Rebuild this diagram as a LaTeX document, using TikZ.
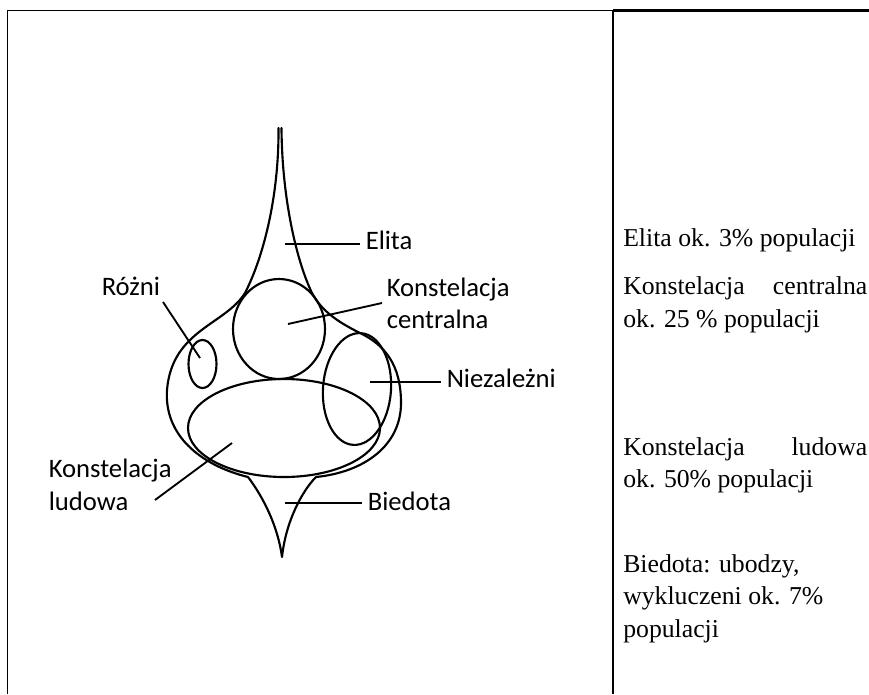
\documentclass[tikz,border=0pt]{standalone}
\usepackage{fontspec}
\setmainfont{Liberation Serif}
\newfontfamily\labfont{Carlito}
\begin{document}
\begin{tikzpicture}[x=0.75pt,y=-0.75pt,
  outline/.style={line width=1.6pt, line join=round, line cap=round},
  lead/.style={line width=1.4pt},
  lab/.style={font=\labfont\fontsize{20}{24}\selectfont, inner xsep=4.5pt, inner ysep=0pt},
  txt/.style={font=\fontsize{19.3}{24}\selectfont, inner sep=0pt},
  rulethin/.style={line width=1.3pt},
  rulethick/.style={line width=1.7pt}]
\useasboundingbox (0,0) rectangle (869,694);

% table rules
\draw[rulethin] (7.5,694) -- (7.5,10.5) -- (613,10.5);
\draw[rulethick] (613,10.5) -- (869,10.5);
\draw[rulethin] (613,10.5) -- (613,694);

% outer shape
\draw[outline] (278.5,128)
  .. controls (279,200) and (262,260) .. (245,293)
  .. controls (225,325) and (172,330) .. (167,390)
  .. controls (164,435) and (200,465) .. (248,477)
  .. controls (258,490) and (277,520) .. (282,557)
  .. controls (286,520) and (303,490) .. (316,477)
  .. controls (365,472) and (401,445) .. (401,403)
  .. controls (401,365) and (385,345) .. (360,333)
  .. controls (340,323) and (322,312) .. (312,293)
  .. controls (297,262) and (282,200) .. (281.5,128);

% inner shapes
\draw[outline] (279,329) ellipse [x radius=46, y radius=50];
\draw[outline] (202.5,364) ellipse [x radius=14, y radius=24];
\draw[outline] (284,428) ellipse [x radius=96, y radius=49];
\draw[outline, rotate around={-4:(357,389)}] (357,389) ellipse [x radius=34, y radius=56];

% labels
\node[lab, anchor=base west] (elita) at (359.5,249) {Elita};
\coordinate (elitaIn) at (285,244);
\draw[lead] (elitaIn) -- (elitaIn -| elita.west);

\node[lab, anchor=base west] (kc1) at (380.5,296) {Konstelacja};
\node[lab, anchor=base west] (kc2) at (380.5,328) {centralna};
\coordinate (kcIn) at (288,324);
\coordinate (kcOut) at (382,303);
\draw[lead] (kcIn) -- (kcOut);

\node[lab, anchor=base west] (niez) at (440.5,387) {Niezależni};
\coordinate (niezIn) at (370,382);
\draw[lead] (niezIn) -- (niezIn -| niez.west);

\node[lab, anchor=base west] (bied) at (361.5,510) {Biedota};
\coordinate (biedIn) at (285,503);
\draw[lead] (biedIn) -- (biedIn -| bied.west);

\node[lab, anchor=base west] (rozni) at (95.5,295) {Różni};
\coordinate (rozniOut) at (163,302);
\coordinate (rozniIn) at (200,358);
\draw[lead] (rozniOut) -- (rozniIn);

\node[lab, anchor=base west] (kl1) at (42.5,477) {Konstelacja};
\node[lab, anchor=base west] (kl2) at (42.5,510) {ludowa};
\coordinate (klOut) at (155,500);
\coordinate (klIn) at (232,443);
\draw[lead] (klOut) -- (klIn);

% right column
\node[txt, anchor=base west] (r1) at (623,246) {Elita ok. 3\% populacji};
\node[txt, anchor=base west] (r2) at (623,294) {\makebox[183pt][s]{Konstelacja centralna}};
\node[txt, anchor=base west] (r3) at (623,327) {ok. 25 \% populacji};
\node[txt, anchor=base west] (r4) at (623,455) {\makebox[183pt][s]{Konstelacja ludowa}};
\node[txt, anchor=base west] (r5) at (623,487) {ok. 50\% populacji};
\node[txt, anchor=base west] (r6) at (623,572) {Biedota: ubodzy,};
\node[txt, anchor=base west] (r7) at (623,604) {wykluczeni ok. 7\%};
\node[txt, anchor=base west] (r8) at (623,637) {populacji};
\end{tikzpicture}
\end{document}
